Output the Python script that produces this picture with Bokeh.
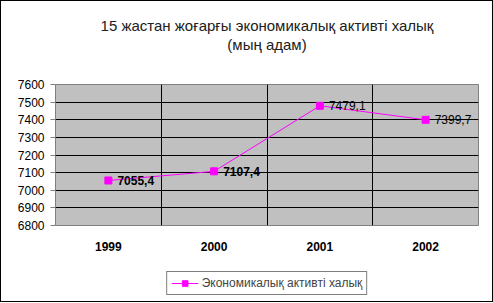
from bokeh.plotting import figure
from bokeh.layouts import column
from bokeh.models import (Range1d, FixedTicker, Title, Legend, LegendItem, ColumnDataSource)
from bokeh.core.properties import value
from bokeh.embed import file_html
from bokeh.resources import INLINE

years = ["1999", "2000", "2001", "2002"]
values = [7055.4, 7107.4, 7479.1, 7399.7]
value_labels = ["7055,4", "7107,4", "7479,1", "7399,7"]
label_styles = ["bold", "bold", "normal", "normal"]
y_ticks = [6800, 6900, 7000, 7100, 7200, 7300, 7400, 7500, 7600]
title_line1 = "15 жастан жоғарғы экономикалық активті халық"
title_line2 = "(мың адам)"
series_name = "Экономикалық активті халық"

xs = [i + 0.5 for i in range(len(years))]
src = ColumnDataSource(dict(x=xs, y=values, lab=value_labels, st=label_styles))

FONT = "Liberation Sans"
MAG = "#FF00FF"

p = figure(frame_width=423, frame_height=141, output_backend="svg", toolbar_location=None,
           x_range=Range1d(0, len(years)), y_range=Range1d(y_ticks[0], y_ticks[-1]),
           min_border_left=54, min_border_right=14, min_border_top=83, min_border_bottom=31,
           background_fill_color="#C0C0C0", border_fill_color="white",
           outline_line_color="#808080", outline_line_width=1)
p.title = None

spacer = Title(text=" ", text_font=FONT, text_font_size="15px", standoff=13)
p.add_layout(spacer, "above")
t2 = Title(text=title_line2, align="center", text_font=FONT, text_font_size="15px",
           text_font_style="normal", text_color="#202020", standoff=0)
p.add_layout(t2, "above")
t1 = Title(text=title_line1, align="center", text_font=FONT, text_font_size="15px",
           text_font_style="normal", text_color="#202020", standoff=0)
p.add_layout(t1, "above")

# axes
p.xaxis.ticker = FixedTicker(ticks=xs)
p.xaxis.major_label_overrides = {x: y for x, y in zip(xs, years)}
p.xaxis.major_label_text_font = FONT
p.xaxis.major_label_text_font_style = "bold"
p.xaxis.major_label_text_font_size = "12px"
p.xaxis.major_label_text_color = "black"
p.xaxis.major_tick_out = 0
p.xaxis.major_tick_in = 0
p.xaxis.minor_tick_out = 0
p.xaxis.minor_tick_in = 0
p.xaxis.axis_line_color = None
p.xaxis.major_label_standoff = 16

p.yaxis.ticker = FixedTicker(ticks=y_ticks)
p.yaxis.major_label_text_font = FONT
p.yaxis.major_label_text_font_size = "12px"
p.yaxis.major_label_text_color = "black"
p.yaxis.major_tick_out = 5
p.yaxis.major_tick_in = 0
p.yaxis.minor_tick_out = 0
p.yaxis.major_tick_line_color = "#808080"
p.yaxis.axis_line_color = None
p.yaxis.major_label_standoff = 6

p.xgrid.ticker = FixedTicker(ticks=[1, 2, 3])
p.xgrid.grid_line_color = "black"
p.ygrid.ticker = FixedTicker(ticks=y_ticks[1:-1])
p.ygrid.grid_line_color = "black"

p.line("x", "y", source=src, line_color=MAG, line_width=1)
p.scatter("x", "y", source=src, marker="square", size=7, fill_color=MAG, line_color=MAG)
p.text("x", "y", text="lab", source=src, x_offset=9, text_baseline="middle",
       text_align="left", text_font=value(FONT), text_font_size="12px",
       text_font_style="st", text_color="black")

# legend strip below the chart (same series, drawn out of view, only its legend shows)
pl = figure(width=491, height=45, output_backend="svg", toolbar_location=None,
            x_range=Range1d(0, 1), y_range=Range1d(0, 1),
            x_axis_location=None, y_axis_location=None,
            min_border_left=0, min_border_right=0, min_border_top=8, min_border_bottom=0,
            background_fill_color="white", border_fill_color="white",
            outline_line_color=None)
pl.title = None
pl.xgrid.visible = False
pl.ygrid.visible = False
ln2 = pl.line("x", "y", source=src, line_color=MAG, line_width=1)
sc2 = pl.scatter("x", "y", source=src, marker="square", size=7, fill_color=MAG, line_color=MAG)

legend = Legend(items=[LegendItem(label=series_name, renderers=[ln2, sc2])],
                location="center", orientation="horizontal",
                border_line_color="black", border_line_width=1,
                background_fill_color="white", background_fill_alpha=1,
                label_text_font=FONT, label_text_font_size="12px",
                glyph_width=27, glyph_height=14, label_standoff=4,
                padding=4, margin=0, spacing=0, label_height=14)
pl.add_layout(legend, "center")

layout = column(p, pl, spacing=0, styles={"border": "1px solid black"})

open("out.html", "w").write(file_html(layout, INLINE))
